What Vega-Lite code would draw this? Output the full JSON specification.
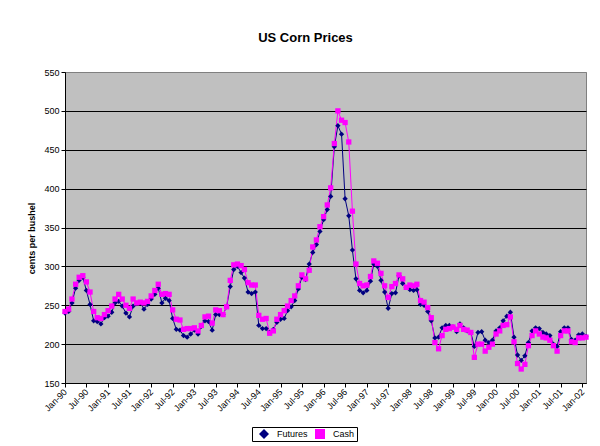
{
"$schema": "https://vega.github.io/schema/vega-lite/v6.json",
"width": 521, "height": 311,
"autosize": {"type": "none"},
"padding": {"left": 65, "top": 72, "right": 14, "bottom": 63},
"background": "white",
"title": {"text": "US Corn Prices", "fontSize": 13, "fontWeight": "bold", "color": "black", "anchor": "middle", "frame": "group", "dx": -20, "offset": 13, "baseline": "alphabetic"},
"config": {"font": "Liberation Sans", "view": {"fill": "#C0C0C0", "stroke": "#808080", "strokeWidth": 1}},
"data": {"values": [
{"d":"1990-01-01","s":"Futures","v":240},{"d":"1990-02-01","s":"Futures","v":242},{"d":"1990-03-01","s":"Futures","v":253},{"d":"1990-04-01","s":"Futures","v":272},{"d":"1990-05-01","s":"Futures","v":282},{"d":"1990-06-01","s":"Futures","v":286},{"d":"1990-07-01","s":"Futures","v":269},{"d":"1990-08-01","s":"Futures","v":251},{"d":"1990-09-01","s":"Futures","v":230},{"d":"1990-10-01","s":"Futures","v":229},{"d":"1990-11-01","s":"Futures","v":226},{"d":"1990-12-01","s":"Futures","v":234},
{"d":"1991-01-01","s":"Futures","v":236},{"d":"1991-02-01","s":"Futures","v":241},{"d":"1991-03-01","s":"Futures","v":253},{"d":"1991-04-01","s":"Futures","v":255},{"d":"1991-05-01","s":"Futures","v":249},{"d":"1991-06-01","s":"Futures","v":240},{"d":"1991-07-01","s":"Futures","v":235},{"d":"1991-08-01","s":"Futures","v":249},{"d":"1991-09-01","s":"Futures","v":252},{"d":"1991-10-01","s":"Futures","v":253},{"d":"1991-11-01","s":"Futures","v":245},{"d":"1991-12-01","s":"Futures","v":251},
{"d":"1992-01-01","s":"Futures","v":258},{"d":"1992-02-01","s":"Futures","v":264},{"d":"1992-03-01","s":"Futures","v":272},{"d":"1992-04-01","s":"Futures","v":253},{"d":"1992-05-01","s":"Futures","v":259},{"d":"1992-06-01","s":"Futures","v":256},{"d":"1992-07-01","s":"Futures","v":233},{"d":"1992-08-01","s":"Futures","v":219},{"d":"1992-09-01","s":"Futures","v":218},{"d":"1992-10-01","s":"Futures","v":211},{"d":"1992-11-01","s":"Futures","v":209},{"d":"1992-12-01","s":"Futures","v":213},
{"d":"1993-01-01","s":"Futures","v":218},{"d":"1993-02-01","s":"Futures","v":213},{"d":"1993-03-01","s":"Futures","v":223},{"d":"1993-04-01","s":"Futures","v":230},{"d":"1993-05-01","s":"Futures","v":229},{"d":"1993-06-01","s":"Futures","v":218},{"d":"1993-07-01","s":"Futures","v":238},{"d":"1993-08-01","s":"Futures","v":238},{"d":"1993-09-01","s":"Futures","v":238},{"d":"1993-10-01","s":"Futures","v":248},{"d":"1993-11-01","s":"Futures","v":274},{"d":"1993-12-01","s":"Futures","v":296},
{"d":"1994-01-01","s":"Futures","v":300},{"d":"1994-02-01","s":"Futures","v":292},{"d":"1994-03-01","s":"Futures","v":285},{"d":"1994-04-01","s":"Futures","v":267},{"d":"1994-05-01","s":"Futures","v":265},{"d":"1994-06-01","s":"Futures","v":267},{"d":"1994-07-01","s":"Futures","v":224},{"d":"1994-08-01","s":"Futures","v":220},{"d":"1994-09-01","s":"Futures","v":220},{"d":"1994-10-01","s":"Futures","v":215},{"d":"1994-11-01","s":"Futures","v":219},{"d":"1994-12-01","s":"Futures","v":228},
{"d":"1995-01-01","s":"Futures","v":232},{"d":"1995-02-01","s":"Futures","v":233},{"d":"1995-03-01","s":"Futures","v":243},{"d":"1995-04-01","s":"Futures","v":248},{"d":"1995-05-01","s":"Futures","v":256},{"d":"1995-06-01","s":"Futures","v":271},{"d":"1995-07-01","s":"Futures","v":286},{"d":"1995-08-01","s":"Futures","v":283},{"d":"1995-09-01","s":"Futures","v":303},{"d":"1995-10-01","s":"Futures","v":318},{"d":"1995-11-01","s":"Futures","v":328},{"d":"1995-12-01","s":"Futures","v":345},
{"d":"1996-01-01","s":"Futures","v":360},{"d":"1996-02-01","s":"Futures","v":373},{"d":"1996-03-01","s":"Futures","v":390},{"d":"1996-04-01","s":"Futures","v":454},{"d":"1996-05-01","s":"Futures","v":481},{"d":"1996-06-01","s":"Futures","v":470},{"d":"1996-07-01","s":"Futures","v":387},{"d":"1996-08-01","s":"Futures","v":365},{"d":"1996-09-01","s":"Futures","v":321},{"d":"1996-10-01","s":"Futures","v":284},{"d":"1996-11-01","s":"Futures","v":269},{"d":"1996-12-01","s":"Futures","v":266},
{"d":"1997-01-01","s":"Futures","v":269},{"d":"1997-02-01","s":"Futures","v":281},{"d":"1997-03-01","s":"Futures","v":303},{"d":"1997-04-01","s":"Futures","v":300},{"d":"1997-05-01","s":"Futures","v":282},{"d":"1997-06-01","s":"Futures","v":267},{"d":"1997-07-01","s":"Futures","v":246},{"d":"1997-08-01","s":"Futures","v":265},{"d":"1997-09-01","s":"Futures","v":266},{"d":"1997-10-01","s":"Futures","v":288},{"d":"1997-11-01","s":"Futures","v":278},{"d":"1997-12-01","s":"Futures","v":273},
{"d":"1998-01-01","s":"Futures","v":270},{"d":"1998-02-01","s":"Futures","v":269},{"d":"1998-03-01","s":"Futures","v":270},{"d":"1998-04-01","s":"Futures","v":251},{"d":"1998-05-01","s":"Futures","v":250},{"d":"1998-06-01","s":"Futures","v":242},{"d":"1998-07-01","s":"Futures","v":230},{"d":"1998-08-01","s":"Futures","v":208},{"d":"1998-09-01","s":"Futures","v":209},{"d":"1998-10-01","s":"Futures","v":221},{"d":"1998-11-01","s":"Futures","v":224},{"d":"1998-12-01","s":"Futures","v":224},
{"d":"1999-01-01","s":"Futures","v":222},{"d":"1999-02-01","s":"Futures","v":216},{"d":"1999-03-01","s":"Futures","v":226},{"d":"1999-04-01","s":"Futures","v":221},{"d":"1999-05-01","s":"Futures","v":217},{"d":"1999-06-01","s":"Futures","v":215},{"d":"1999-07-01","s":"Futures","v":197},{"d":"1999-08-01","s":"Futures","v":215},{"d":"1999-09-01","s":"Futures","v":216},{"d":"1999-10-01","s":"Futures","v":205},{"d":"1999-11-01","s":"Futures","v":202},{"d":"1999-12-01","s":"Futures","v":205},
{"d":"2000-01-01","s":"Futures","v":217},{"d":"2000-02-01","s":"Futures","v":221},{"d":"2000-03-01","s":"Futures","v":230},{"d":"2000-04-01","s":"Futures","v":236},{"d":"2000-05-01","s":"Futures","v":241},{"d":"2000-06-01","s":"Futures","v":209},{"d":"2000-07-01","s":"Futures","v":186},{"d":"2000-08-01","s":"Futures","v":179},{"d":"2000-09-01","s":"Futures","v":185},{"d":"2000-10-01","s":"Futures","v":202},{"d":"2000-11-01","s":"Futures","v":217},{"d":"2000-12-01","s":"Futures","v":221},
{"d":"2001-01-01","s":"Futures","v":220},{"d":"2001-02-01","s":"Futures","v":215},{"d":"2001-03-01","s":"Futures","v":213},{"d":"2001-04-01","s":"Futures","v":211},{"d":"2001-05-01","s":"Futures","v":200},{"d":"2001-06-01","s":"Futures","v":197},{"d":"2001-07-01","s":"Futures","v":216},{"d":"2001-08-01","s":"Futures","v":221},{"d":"2001-09-01","s":"Futures","v":221},{"d":"2001-10-01","s":"Futures","v":206},{"d":"2001-11-01","s":"Futures","v":205},{"d":"2001-12-01","s":"Futures","v":212},
{"d":"2002-01-01","s":"Futures","v":213},{"d":"2002-02-01","s":"Futures","v":210},
{"d":"1990-01-01","s":"Cash","v":242},{"d":"1990-02-01","s":"Cash","v":245},{"d":"1990-03-01","s":"Cash","v":258},{"d":"1990-04-01","s":"Cash","v":277},{"d":"1990-05-01","s":"Cash","v":286},{"d":"1990-06-01","s":"Cash","v":288},{"d":"1990-07-01","s":"Cash","v":280},{"d":"1990-08-01","s":"Cash","v":267},{"d":"1990-09-01","s":"Cash","v":242},{"d":"1990-10-01","s":"Cash","v":234},{"d":"1990-11-01","s":"Cash","v":233},{"d":"1990-12-01","s":"Cash","v":238},
{"d":"1991-01-01","s":"Cash","v":243},{"d":"1991-02-01","s":"Cash","v":249},{"d":"1991-03-01","s":"Cash","v":258},{"d":"1991-04-01","s":"Cash","v":264},{"d":"1991-05-01","s":"Cash","v":258},{"d":"1991-06-01","s":"Cash","v":250},{"d":"1991-07-01","s":"Cash","v":246},{"d":"1991-08-01","s":"Cash","v":258},{"d":"1991-09-01","s":"Cash","v":253},{"d":"1991-10-01","s":"Cash","v":254},{"d":"1991-11-01","s":"Cash","v":253},{"d":"1991-12-01","s":"Cash","v":255},
{"d":"1992-01-01","s":"Cash","v":262},{"d":"1992-02-01","s":"Cash","v":269},{"d":"1992-03-01","s":"Cash","v":277},{"d":"1992-04-01","s":"Cash","v":264},{"d":"1992-05-01","s":"Cash","v":265},{"d":"1992-06-01","s":"Cash","v":264},{"d":"1992-07-01","s":"Cash","v":244},{"d":"1992-08-01","s":"Cash","v":232},{"d":"1992-09-01","s":"Cash","v":231},{"d":"1992-10-01","s":"Cash","v":219},{"d":"1992-11-01","s":"Cash","v":220},{"d":"1992-12-01","s":"Cash","v":220},
{"d":"1993-01-01","s":"Cash","v":221},{"d":"1993-02-01","s":"Cash","v":217},{"d":"1993-03-01","s":"Cash","v":224},{"d":"1993-04-01","s":"Cash","v":235},{"d":"1993-05-01","s":"Cash","v":236},{"d":"1993-06-01","s":"Cash","v":227},{"d":"1993-07-01","s":"Cash","v":244},{"d":"1993-08-01","s":"Cash","v":243},{"d":"1993-09-01","s":"Cash","v":238},{"d":"1993-10-01","s":"Cash","v":248},{"d":"1993-11-01","s":"Cash","v":282},{"d":"1993-12-01","s":"Cash","v":302},
{"d":"1994-01-01","s":"Cash","v":303},{"d":"1994-02-01","s":"Cash","v":301},{"d":"1994-03-01","s":"Cash","v":296},{"d":"1994-04-01","s":"Cash","v":279},{"d":"1994-05-01","s":"Cash","v":276},{"d":"1994-06-01","s":"Cash","v":276},{"d":"1994-07-01","s":"Cash","v":237},{"d":"1994-08-01","s":"Cash","v":232},{"d":"1994-09-01","s":"Cash","v":233},{"d":"1994-10-01","s":"Cash","v":214},{"d":"1994-11-01","s":"Cash","v":217},{"d":"1994-12-01","s":"Cash","v":232},
{"d":"1995-01-01","s":"Cash","v":238},{"d":"1995-02-01","s":"Cash","v":243},{"d":"1995-03-01","s":"Cash","v":249},{"d":"1995-04-01","s":"Cash","v":256},{"d":"1995-05-01","s":"Cash","v":262},{"d":"1995-06-01","s":"Cash","v":275},{"d":"1995-07-01","s":"Cash","v":289},{"d":"1995-08-01","s":"Cash","v":284},{"d":"1995-09-01","s":"Cash","v":295},{"d":"1995-10-01","s":"Cash","v":325},{"d":"1995-11-01","s":"Cash","v":334},{"d":"1995-12-01","s":"Cash","v":351},
{"d":"1996-01-01","s":"Cash","v":364},{"d":"1996-02-01","s":"Cash","v":379},{"d":"1996-03-01","s":"Cash","v":401},{"d":"1996-04-01","s":"Cash","v":458},{"d":"1996-05-01","s":"Cash","v":500},{"d":"1996-06-01","s":"Cash","v":488},{"d":"1996-07-01","s":"Cash","v":485},{"d":"1996-08-01","s":"Cash","v":460},{"d":"1996-09-01","s":"Cash","v":371},{"d":"1996-10-01","s":"Cash","v":303},{"d":"1996-11-01","s":"Cash","v":278},{"d":"1996-12-01","s":"Cash","v":275},
{"d":"1997-01-01","s":"Cash","v":276},{"d":"1997-02-01","s":"Cash","v":287},{"d":"1997-03-01","s":"Cash","v":307},{"d":"1997-04-01","s":"Cash","v":304},{"d":"1997-05-01","s":"Cash","v":291},{"d":"1997-06-01","s":"Cash","v":275},{"d":"1997-07-01","s":"Cash","v":260},{"d":"1997-08-01","s":"Cash","v":274},{"d":"1997-09-01","s":"Cash","v":278},{"d":"1997-10-01","s":"Cash","v":289},{"d":"1997-11-01","s":"Cash","v":284},{"d":"1997-12-01","s":"Cash","v":273},
{"d":"1998-01-01","s":"Cash","v":276},{"d":"1998-02-01","s":"Cash","v":275},{"d":"1998-03-01","s":"Cash","v":277},{"d":"1998-04-01","s":"Cash","v":256},{"d":"1998-05-01","s":"Cash","v":254},{"d":"1998-06-01","s":"Cash","v":247},{"d":"1998-07-01","s":"Cash","v":234},{"d":"1998-08-01","s":"Cash","v":202},{"d":"1998-09-01","s":"Cash","v":194},{"d":"1998-10-01","s":"Cash","v":211},{"d":"1998-11-01","s":"Cash","v":219},{"d":"1998-12-01","s":"Cash","v":220},
{"d":"1999-01-01","s":"Cash","v":222},{"d":"1999-02-01","s":"Cash","v":219},{"d":"1999-03-01","s":"Cash","v":224},{"d":"1999-04-01","s":"Cash","v":219},{"d":"1999-05-01","s":"Cash","v":218},{"d":"1999-06-01","s":"Cash","v":215},{"d":"1999-07-01","s":"Cash","v":183},{"d":"1999-08-01","s":"Cash","v":200},{"d":"1999-09-01","s":"Cash","v":200},{"d":"1999-10-01","s":"Cash","v":191},{"d":"1999-11-01","s":"Cash","v":196},{"d":"1999-12-01","s":"Cash","v":200},
{"d":"2000-01-01","s":"Cash","v":213},{"d":"2000-02-01","s":"Cash","v":217},{"d":"2000-03-01","s":"Cash","v":224},{"d":"2000-04-01","s":"Cash","v":225},{"d":"2000-05-01","s":"Cash","v":235},{"d":"2000-06-01","s":"Cash","v":203},{"d":"2000-07-01","s":"Cash","v":175},{"d":"2000-08-01","s":"Cash","v":168},{"d":"2000-09-01","s":"Cash","v":174},{"d":"2000-10-01","s":"Cash","v":198},{"d":"2000-11-01","s":"Cash","v":211},{"d":"2000-12-01","s":"Cash","v":217},
{"d":"2001-01-01","s":"Cash","v":213},{"d":"2001-02-01","s":"Cash","v":209},{"d":"2001-03-01","s":"Cash","v":208},{"d":"2001-04-01","s":"Cash","v":205},{"d":"2001-05-01","s":"Cash","v":198},{"d":"2001-06-01","s":"Cash","v":191},{"d":"2001-07-01","s":"Cash","v":211},{"d":"2001-08-01","s":"Cash","v":217},{"d":"2001-09-01","s":"Cash","v":217},{"d":"2001-10-01","s":"Cash","v":203},{"d":"2001-11-01","s":"Cash","v":202},{"d":"2001-12-01","s":"Cash","v":208},
{"d":"2002-01-01","s":"Cash","v":208},{"d":"2002-02-01","s":"Cash","v":209}
]},
"encoding": {
  "x": {"field": "d", "type": "temporal",
        "scale": {"type": "utc", "domain": [{"year": 1990, "month": 1, "date": 1, "utc": true}, {"year": 2002, "month": 2, "date": 1, "utc": true}], "nice": false},
        "axis": {"title": null, "format": "%b-%y", "tickCount": {"interval": "month", "step": 6}, "labelAngle": -45, "labelAlign": "right", "labelBaseline": "middle", "labelFontSize": 9, "labelColor": "black", "labelPadding": 3, "tickSize": 4, "tickColor": "black", "domainColor": "black", "grid": false, "labelFlush": false, "labelOverlap": false}},
  "y": {"field": "v", "type": "quantitative",
        "scale": {"domain": [150, 550], "nice": false, "zero": false},
        "axis": {"title": "cents per bushel", "titleY": 166, "values": [150, 200, 250, 300, 350, 400, 450, 500, 550], "titleFontSize": 9, "titleFontWeight": "bold", "titleColor": "black", "titlePadding": 7, "labelFontSize": 9, "labelColor": "black", "labelPadding": 2, "tickSize": 4, "tickColor": "black", "domainColor": "black", "grid": true, "gridColor": {"condition": {"test": "datum.value === 550", "value": "#808080"}, "value": "black"}, "gridOpacity": 1}}
},
"layer": [
  {"mark": {"type": "line", "strokeWidth": 1},
   "encoding": {"stroke": {"field": "s", "type": "nominal", "scale": {"domain": ["Futures", "Cash"], "range": ["#000080", "#FF00FF"]},
               "legend": {"orient": "none", "legendX": 187, "legendY": 355, "direction": "horizontal", "title": null, "strokeColor": "black", "fillColor": "white", "padding": 2, "labelFontSize": 9, "labelColor": "black", "symbolSize": 100, "symbolOffset": 5, "columnPadding": 2, "labelOffset": 8,
                          "encode": {"symbols": {"update": {
                             "shape": {"signal": "datum.value === 'Futures' ? 'M-2,-0.12L2,-0.12L2,0.12L-2,0.12ZM0,-0.7L0.7,0L0,0.7L-0.7,0Z' : 'M-2,-0.12L2,-0.12L2,0.12L-2,0.12ZM-0.6,-0.6L0.6,-0.6L0.6,0.6L-0.6,0.6Z'"},
                             "size": {"value": 100},
                             "strokeWidth": {"value": 0},
                             "opacity": {"value": 1},
                             "fillOpacity": {"value": 1},
                             "fill": {"signal": "datum.value === 'Futures' ? '#000080' : '#FF00FF'"}}}}}}}},
  {"mark": {"type": "point", "filled": true, "size": 28, "opacity": 1},
   "encoding": {
     "color": {"field": "s", "type": "nominal", "scale": {"domain": ["Futures", "Cash"], "range": ["#000080", "#FF00FF"]}, "legend": null},
     "shape": {"field": "s", "type": "nominal", "scale": {"domain": ["Futures", "Cash"], "range": ["diamond", "square"]}, "legend": null}}}
]
}
